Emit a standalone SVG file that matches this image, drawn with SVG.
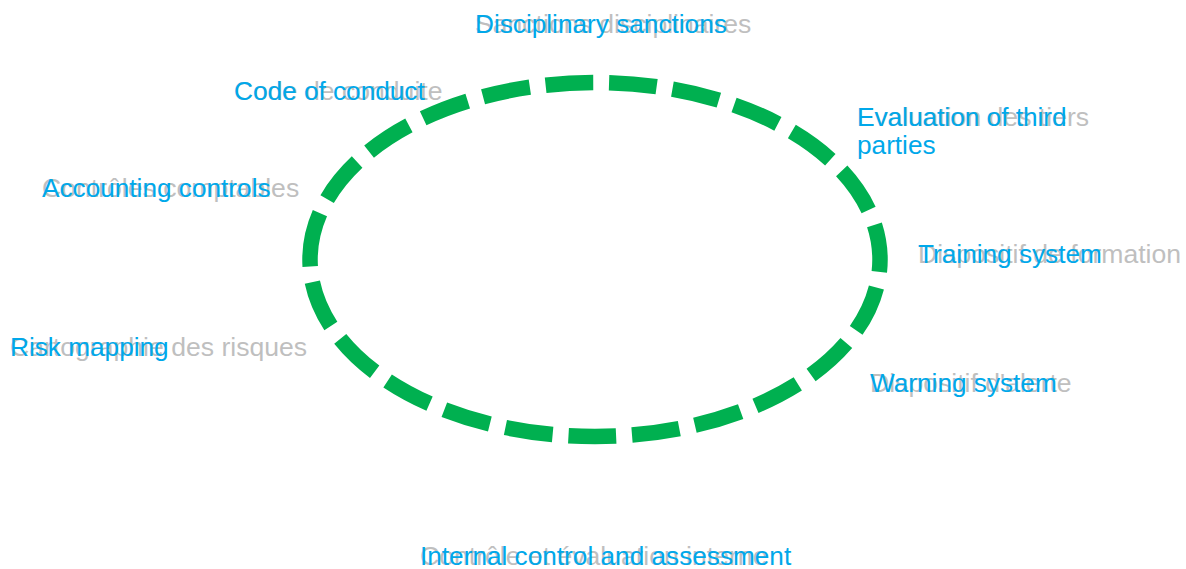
<svg xmlns="http://www.w3.org/2000/svg" width="1186" height="569" viewBox="0 0 1186 569">
  <style>
    text { font-family: "Liberation Sans", Arial, sans-serif; font-size: 26.2px; }
    .fr { fill: #bfbfbf; font-size: 26.6px; }
    .en { fill: #00a8ea; }
    .ring { fill: none; stroke: #00b050; stroke-width: 15.5; stroke-dasharray: 47.7 15.94; }
  </style>

  <!-- dashed cycle: starts at the left end and runs clockwise -->
  <g id="connectors">
    <path class="ring" d="M 310 259.5 A 285 177 0 0 1 880 259.5 A 285 177 0 0 1 310 259.5"/>
  </g>

  <g id="node-sanctions">
    <text class="fr" x="475" y="33">Sanctions disciplinaires</text>
    <text class="en" x="475" y="33">Disciplinary sanctions</text>
  </g>

  <g id="node-code">
    <text class="fr" x="234" y="100">Code de conduite</text>
    <text class="en" x="234" y="100">Code of conduct</text>
  </g>

  <g id="node-evaluation">
    <text class="fr" x="857" y="126">Evaluation des tiers</text>
    <text class="en" x="857" y="126">Evaluation of third</text>
    <text class="en" x="857" y="154">parties</text>
  </g>

  <g id="node-accounting">
    <text class="fr" x="42" y="197">Contrôles comptables</text>
    <text class="en" x="42" y="197">Accounting controls</text>
  </g>

  <g id="node-training">
    <text class="fr" x="918" y="263">Dispositif de formation</text>
    <text class="en" x="918" y="263">Training system</text>
  </g>

  <g id="node-risk">
    <text class="fr" x="10" y="356">Cartographie des risques</text>
    <text class="en" x="10" y="356">Risk mapping</text>
  </g>

  <g id="node-warning">
    <text class="fr" x="870" y="392">Dispositif d'alerte</text>
    <text class="en" x="870" y="392">Warning system</text>
  </g>

  <g id="node-internal">
    <text class="fr" x="420" y="565">Contrôle et évaluation interne</text>
    <text class="en" x="420" y="565">Internal control and assessment</text>
  </g>
</svg>
